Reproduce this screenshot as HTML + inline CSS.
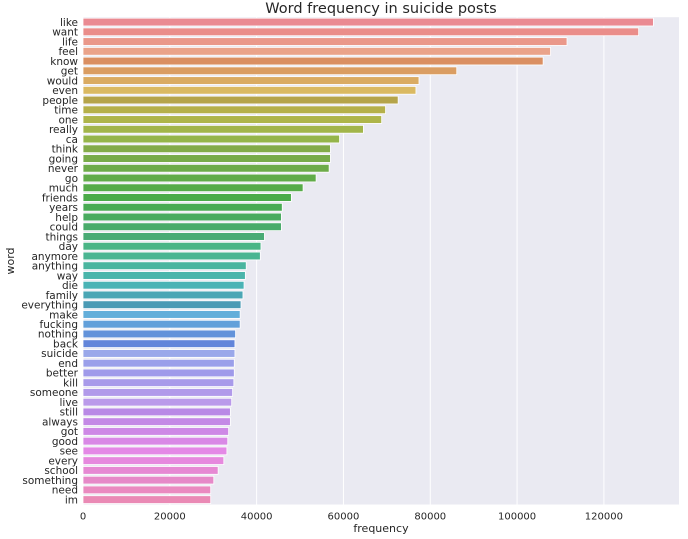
<!DOCTYPE html>
<html><head><meta charset="utf-8"><style>
html,body{margin:0;padding:0;background:#fff;}
svg{display:block;font-family:"DejaVu Sans","Liberation Sans",sans-serif;}
</style></head><body>
<svg id="chart" width="688" height="539" viewBox="0 0 688 539" xmlns="http://www.w3.org/2000/svg">
<text x="381" y="13" text-anchor="middle" font-size="14.5" fill="#262626">Word frequency in suicide posts</text>
<text x="381" y="532" text-anchor="middle" font-size="11" fill="#262626">frequency</text>
<text transform="translate(14,261) rotate(-90)" text-anchor="middle" font-size="11" fill="#262626">word</text>
<g id="plot"></g>
</svg>
<script>
const words = ["like","want","life","feel","know","get","would","even","people","time","one","really","ca","think","going","never","go","much","friends","years","help","could","things","day","anymore","anything","way","die","family","everything","make","fucking","nothing","back","suicide","end","better","kill","someone","live","still","always","got","good","see","every","school","something","need","im"];
const counts = [131400,128000,111500,107700,106000,86100,77400,76700,72600,69700,68800,64600,59100,57000,57000,56700,53700,50700,48000,45900,45700,45700,41800,41000,40850,37600,37400,37100,36850,36400,36200,36200,35150,35000,35000,34850,34850,34750,34460,34250,33950,33950,33550,33350,33150,32440,31130,30130,29420,29420];
const xTicks = [0,20000,40000,60000,80000,100000,120000];
const xTickLabels = ["0","20000","40000","60000","80000","100000","120000"];

const NS="http://www.w3.org/2000/svg";
const L=83,R=679,T=17.2,B=504.5,XMAX=137300;
const x=v=>L+(v/XMAX)*(R-L);
const band=(B-T)/words.length;
const y=i=>T+i*band;
const g=document.getElementById('plot');
function mk(tag,attrs){const e=document.createElementNS(NS,tag);for(const k in attrs)e.setAttribute(k,attrs[k]);return e;}
const bg=mk('rect',{x:L,y:T,width:R-L,height:B-T,fill:'#eaeaf2'});


g.appendChild(bg);
xTicks.forEach((t,i)=>{
  const ln=mk('line',{x1:x(t),x2:x(t),y1:T,y2:B,stroke:'#fff','stroke-width':1});
  
  
  g.appendChild(ln);
  const tx=mk('text',{x:x(t),y:B+15,'text-anchor':'middle','font-size':10,fill:'#262626'});
  tx.textContent=xTickLabels[i];
  
  
  g.appendChild(tx);
});
const n=words.length;
function colorFor(i){
  const h=(355+i*345/n)%360;
  let s=70,l=73;
  if(h>=20&&h<45){s=62;l=62;}
  else if(h>=45&&h<80){s=42;l=50;}
  else if(h>=80&&h<150){s=40;l=48;}
  else if(h>=150&&h<200){s=42;l=50;}
  else if(h>=200&&h<225){s=62;l=62;}
  else if(h>=225&&h<270){s=65;l=76;}
  else if(h>=270&&h<320){s=65;l=72;}
  return `hsl(${h.toFixed(1)},${s}%,${l}%)`;
}
words.forEach((w,i)=>{
  const bh=band*0.8;
  const r=mk('rect',{x:L,y:y(i)+band*0.1,width:x(counts[i])-L,height:bh,fill:colorFor(i),stroke:'#fff','stroke-width':0.8});
  
  
  g.appendChild(r);
  const tx=mk('text',{x:L-5,y:y(i)+band/2+3.8,'text-anchor':'end','font-size':10.5,fill:'#262626'});
  tx.textContent=w;
  
  
  g.appendChild(tx);
});
</script>
</body></html>
